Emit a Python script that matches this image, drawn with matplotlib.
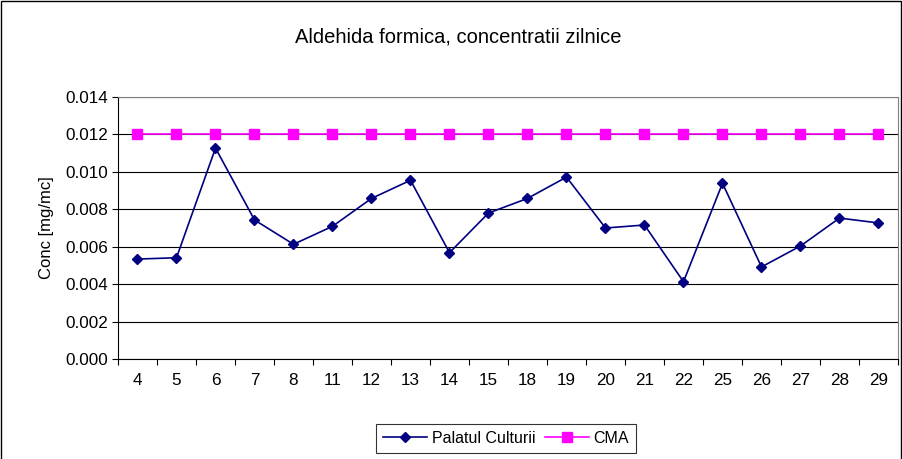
import numpy as np
import matplotlib.pyplot as plt
from matplotlib.patches import Rectangle

# day of month and concentrations
days = ['4', '5', '6', '7', '8', '11', '12', '13', '14', '15',
        '18', '19', '20', '21', '22', '25', '26', '27', '28', '29']
palatul = [0.00534, 0.00541, 0.01127, 0.00743, 0.00613, 0.00709, 0.00858, 0.00955, 0.00568, 0.00780,
           0.00858, 0.00972, 0.00700, 0.00716, 0.00413, 0.00939, 0.00492, 0.00604, 0.00753, 0.00727]
cma = [0.012] * len(days)
y_ticks = [0.000, 0.002, 0.004, 0.006, 0.008, 0.010, 0.012, 0.014]

plt.rcParams['font.family'] = ['Liberation Sans', 'DejaVu Sans']

fig = plt.figure(figsize=(9.03, 4.59), dpi=100)
ax = fig.add_axes([118 / 903, 1 - 359 / 459, 780 / 903, 262 / 459])

x = np.arange(len(days))
ax.plot(x, palatul, color='#000080', marker='D', markersize=5.2, linewidth=1.2,
        label='Palatul Culturii')
ax.plot(x, cma, color='#FF00FF', marker='s', markersize=6.5, linewidth=1.2,
        label='CMA')

ax.set_xlim(-0.5, len(days) - 0.5)
ax.set_ylim(0, 0.014)
ax.set_yticks(y_ticks)
ax.set_yticklabels(['%.3f' % v for v in y_ticks])
ax.set_xticks(x)
ax.set_xticklabels(days)
ax.set_xticks(np.arange(-0.5, len(days)), minor=True)
ax.tick_params(axis='x', which='major', length=0, pad=10, labelsize=12.3)
ax.tick_params(axis='x', which='minor', length=4, width=0.8, direction='out')
ax.tick_params(axis='y', length=4, width=0.8, direction='out', labelsize=12.3, pad=3)

ax.grid(axis='y', color='black', linewidth=0.8)
ax.set_axisbelow(True)
for side in ['left', 'bottom']:
    ax.spines[side].set_color('black')
for side in ['top', 'right']:
    ax.spines[side].set_color('#808080')

ax.set_ylabel('Conc [mg/mc]', fontsize=12, labelpad=8)
fig.text(458 / 903, 1 - 37 / 459, 'Aldehida formica, concentratii zilnice',
         ha='center', va='center', fontsize=14.5)

leg = ax.legend(loc='center', bbox_to_anchor=(506 / 903, 20.5 / 459),
                bbox_transform=fig.transFigure, ncol=2, fontsize=11.5,
                frameon=True, fancybox=False, handlelength=2.75,
                columnspacing=0.6, handletextpad=0.3, borderpad=0.45)
leg.get_frame().set_edgecolor('black')
leg.get_frame().set_linewidth(0.8)

# outer chart border
fig.patches.append(Rectangle((0.001, -0.01), 0.997, 1.008, transform=fig.transFigure,
                             fill=False, edgecolor='black', linewidth=1.0))

fig.savefig('out.png', dpi=100)
